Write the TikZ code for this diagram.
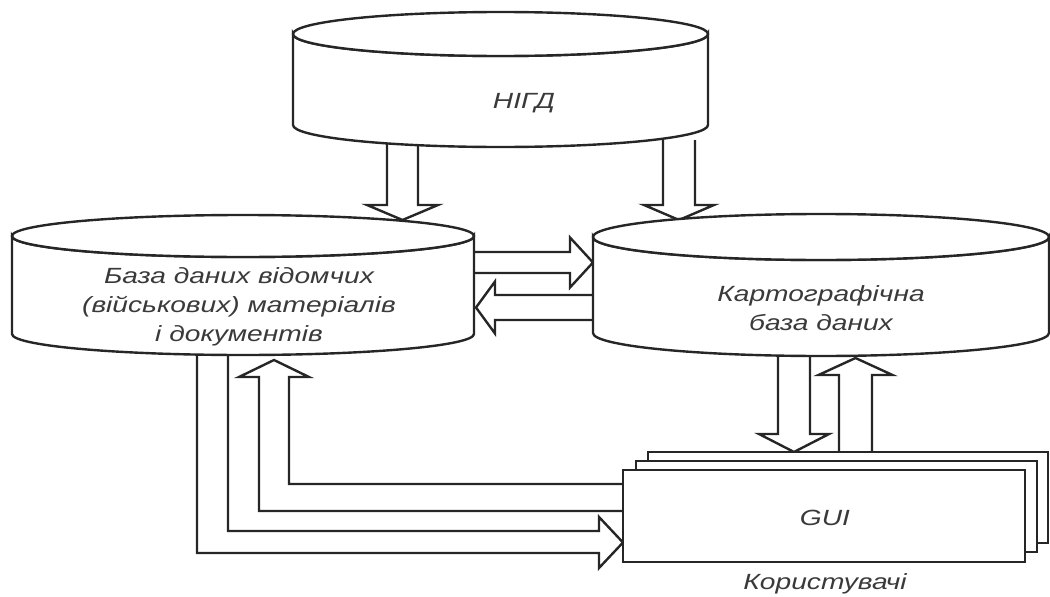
\documentclass[tikz,border=0pt]{standalone}
\usepackage{fontspec}
\setmainfont{Liberation Sans}[FakeStretch=1.28]
\definecolor{ink}{HTML}{262626}
\definecolor{txt}{HTML}{3A3A3A}
\newcommand\vArrow[6]{%
  \draw[arr] ({#1-#4},#2) -- ({#1-#4},{#3-(#6)}) -- ({#1-#5},{#3-(#6)}) -- (#1,#3)
    -- ({#1+#5},{#3-(#6)}) -- ({#1+#4},{#3-(#6)}) -- ({#1+#4},#2);}
\newcommand\hArrow[6]{%
  \draw[arr] (#2,{#1-#4}) -- ({#3-(#6)},{#1-#4}) -- ({#3-(#6)},{#1-#5}) -- (#3,#1)
    -- ({#3-(#6)},{#1+#5}) -- ({#3-(#6)},{#1+#4}) -- (#2,{#1+#4});}
\newcommand\cyl[5]{%
  \filldraw[cylbody] ({#1-#2},#3) -- ({#1-#2},#4)
    arc[start angle=180, end angle=0, x radius=#2, y radius=#5] -- ({#1+#2},#3)
    arc[start angle=0, end angle=180, x radius=#2, y radius=#5] -- cycle;
  \draw[cylbody] (#1,#3) ellipse[x radius=#2, y radius=#5];}
\begin{document}
\begin{tikzpicture}[x=1pt,y=-1pt,
  arr/.style={draw=ink, line width=2.4pt, fill=white, line join=miter},
  cylbody/.style={draw=ink, line width=2.4pt, fill=white},
  guibox/.style={draw=ink, line width=2.4pt, fill=white},
  lbl/.style={text=txt, font=\fontsize{22}{29}\selectfont\itshape, align=center, inner sep=0pt}]
\useasboundingbox (0,0) rectangle (1050,597);
% connectors (drawn first, shapes cover their starts)
\vArrow{402.5}{140}{220}{15.5}{35.5}{15}
\vArrow{679}{140}{220}{16}{35}{15}
\hArrow{262.5}{460}{593}{10.5}{25}{23}
\hArrow{307.5}{610}{476}{12.5}{26}{-19}
\draw[arr] (623,484) -- (289,484) -- (289,377) -- (309,377) -- (274,360) -- (239,377)
  -- (259,377) -- (259,511) -- (623,511);
\draw[arr] (228,340) -- (228,531) -- (599,531) -- (599,517) -- (623,542.5) -- (599,568)
  -- (599,553) -- (197,553) -- (197,340);
\vArrow{794}{340}{452}{16}{35}{18}
\vArrow{855.5}{460}{358}{16.5}{37}{-17}
% shapes
\cyl{500.5}{207.5}{34}{125}{22}
\cyl{243}{231}{236}{334}{21}
\cyl{821}{228}{237}{333}{23}
\draw[guibox] (648,452) rectangle (1048,543);
\draw[guibox] (636,461) rectangle (1037,552);
\draw[guibox] (623,470) rectangle (1025,562);
% labels
\node[lbl] (nigd) at (524,103) {НІГД};
\node[lbl] (vdb) at (239,307) {База даних відомчих\\(військових) матеріалів\\і документів};
\node[lbl] (kdb) at (821,308) {Картографічна\\база даних};
\node[lbl] (gui) at (825,518) {GUI};
\node[lbl] (users) at (825,584) {Користувачі};
\end{tikzpicture}
\end{document}
